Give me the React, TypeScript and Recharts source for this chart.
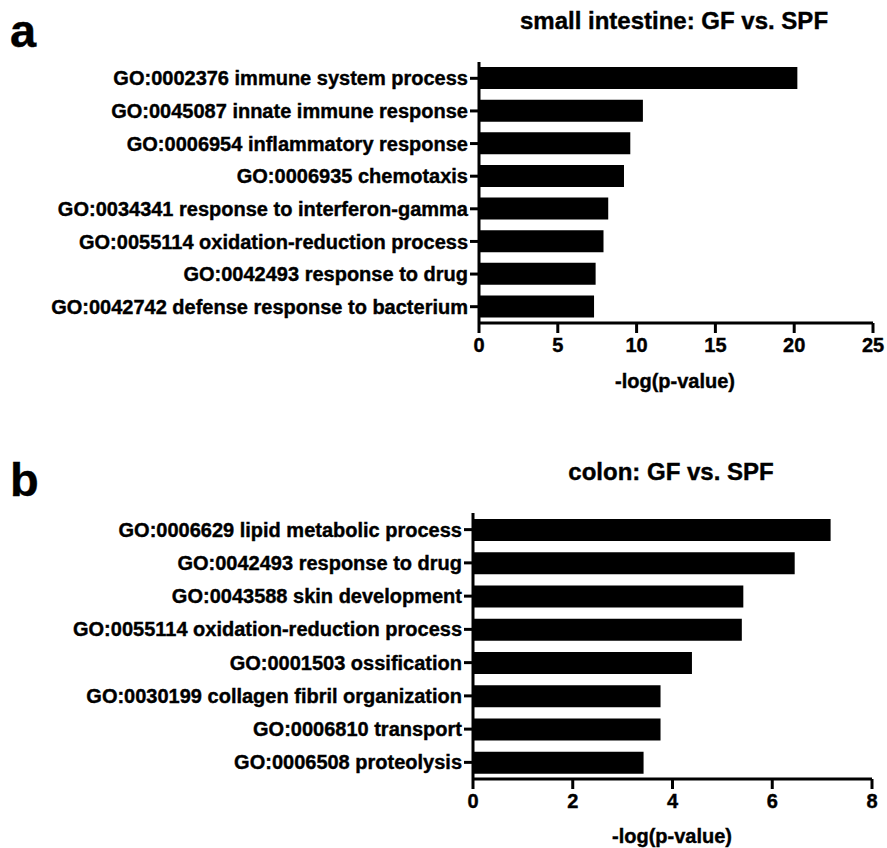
import { BarChart, Bar, XAxis, YAxis } from "recharts"

// panel a: small intestine
const siTerms = [
  "GO:0002376 immune system process",
  "GO:0045087 innate immune response",
  "GO:0006954 inflammatory response",
  "GO:0006935 chemotaxis",
  "GO:0034341 response to interferon-gamma",
  "GO:0055114 oxidation-reduction process",
  "GO:0042493 response to drug",
  "GO:0042742 defense response to bacterium",
]
const siValues = [20.2, 10.4, 9.6, 9.2, 8.2, 7.9, 7.4, 7.3]
const siTicks = [0, 5, 10, 15, 20, 25]

// panel b: colon
const colonTerms = [
  "GO:0006629 lipid metabolic process",
  "GO:0042493 response to drug",
  "GO:0043588 skin development",
  "GO:0055114 oxidation-reduction process",
  "GO:0001503 ossification",
  "GO:0030199 collagen fibril organization",
  "GO:0006810 transport",
  "GO:0006508 proteolysis",
]
const colonValues = [7.17, 6.45, 5.42, 5.39, 4.39, 3.76, 3.76, 3.42]
const colonTicks = [0, 2, 4, 6, 8]

const siData = siTerms.map((term, i) => ({ term, value: siValues[i] }))
const colonData = colonTerms.map((term, i) => ({ term, value: colonValues[i] }))

const FONT = "'Liberation Sans', Arial, sans-serif"
const line = { stroke: "#000", strokeWidth: 3 }
// thin stroke to get closer to the heavy Helvetica Bold of the original
const tickStyle = {
  fill: "#000",
  stroke: "#000",
  strokeWidth: 0.4,
  fontSize: 20,
  fontWeight: "bold" as const,
}

interface PanelProps {
  data: { term: string; value: number }[]
  ticks: number[]
  axisWidth: number
  margin: { top: number; right: number; bottom: number; left: number }
}

function Panel({ data, ticks, axisWidth, margin }: PanelProps) {
  return (
    <BarChart width={887} height={424} data={data} layout="vertical" margin={margin}>
      <XAxis
        type="number"
        domain={[ticks[0], ticks[ticks.length - 1]]}
        ticks={ticks}
        interval={0}
        height={40}
        axisLine={line}
        tickLine={line}
        tickSize={10}
        tickMargin={5}
        tick={tickStyle}
      />
      <YAxis
        type="category"
        dataKey="term"
        width={axisWidth}
        interval={0}
        axisLine={line}
        tickLine={line}
        tickSize={9}
        tickMargin={2}
        tick={tickStyle}
      />
      <Bar dataKey="value" fill="#000" barSize={22} isAnimationActive={false} />
    </BarChart>
  )
}

export default function App() {
  return (
    <div
      style={{
        position: "absolute",
        left: 0,
        top: 0,
        width: 887,
        height: 848,
        background: "#fff",
        fontFamily: FONT,
      }}
    >
      <div style={{ position: "absolute", left: 0, top: 0 }}>
        <Panel
          data={siData}
          ticks={siTicks}
          axisWidth={479}
          margin={{ top: 62, right: 14, bottom: 61, left: 0 }}
        />
      </div>
      <div style={{ position: "absolute", left: 0, top: 424 }}>
        <Panel
          data={colonData}
          ticks={colonTicks}
          axisWidth={473}
          margin={{ top: 89, right: 15, bottom: 29, left: 0 }}
        />
      </div>

      {/* panel letters, titles, axis titles */}
      <svg
        width={887}
        height={848}
        style={{ position: "absolute", left: 0, top: 0, pointerEvents: "none" }}
        fontFamily={FONT}
        fontWeight="bold"
        fill="#000"
        stroke="#000"
        strokeWidth={0.4}
      >
        <text x={10} y={47} fontSize={47}>a</text>
        <text x={10} y={496} fontSize={47}>b</text>
        <text x={674} y={29} fontSize={24} textAnchor="middle">
          small intestine: GF vs. SPF
        </text>
        <text x={671} y={480} fontSize={24} textAnchor="middle">
          colon: GF vs. SPF
        </text>
        <text x={675} y={388} fontSize={20} textAnchor="middle">
          -log(p-value)
        </text>
        <text x={672} y={843} fontSize={20} textAnchor="middle">
          -log(p-value)
        </text>
      </svg>
    </div>
  )
}
